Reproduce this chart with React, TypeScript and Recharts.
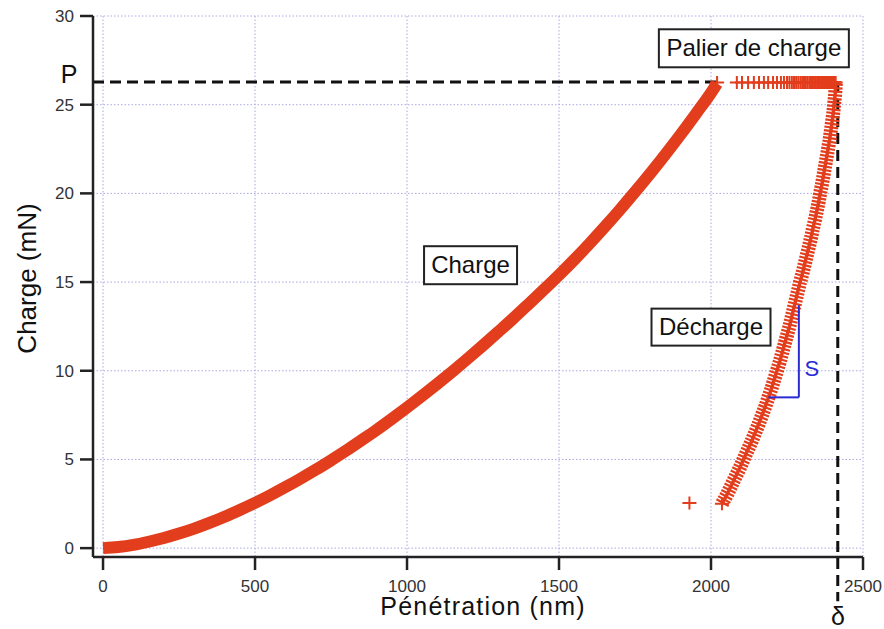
import React from "react";
import { ComposedChart, Line, Scatter, XAxis, YAxis, CartesianGrid, ReferenceLine, ReferenceDot, Label } from "recharts";

const RED = "#e23d1c";
const BLUE = "#2b2bd6";

// charge : [pénétration nm, charge mN]
const loading = [
  [0, 0], [50, 0.06], [100, 0.18], [150, 0.36], [200, 0.57], [250, 0.82], [300, 1.1], [350, 1.42],
  [400, 1.77], [450, 2.15], [500, 2.55], [550, 2.98], [600, 3.44], [650, 3.92], [700, 4.42], [750, 4.95],
  [800, 5.5], [850, 6.08], [900, 6.67], [950, 7.29], [1000, 7.93], [1050, 8.59], [1100, 9.27], [1150, 9.97],
  [1200, 10.69], [1250, 11.43], [1300, 12.19], [1350, 12.96], [1400, 13.76], [1450, 14.57], [1500, 15.4],
  [1550, 16.26], [1600, 17.16], [1650, 18.1], [1700, 19.07], [1750, 20.08], [1800, 21.12], [1850, 22.2],
  [1900, 23.32], [1950, 24.48], [2000, 25.67], [2020, 26.2],
];

// palier de charge (charge maintenue)
const holdDepth = [
  2020, 2085, 2102, 2122, 2141, 2158, 2174, 2188, 2204, 2217, 2230, 2240, 2250, 2258, 2266, 2273,
  2280, 2287, 2294, 2300, 2306, 2312, 2318, 2324, 2329, 2334, 2339, 2344, 2349, 2354, 2358, 2362,
  2366, 2370, 2374, 2378, 2382, 2386, 2390, 2394, 2397, 2400, 2403, 2406, 2408, 2410,
];
const holdLoad = 26.25;

// décharge
const unloading = [
  [2411, 26.2], [2408, 25.5], [2405, 25], [2402, 24.5], [2398, 24], [2394, 23.5], [2390, 23],
  [2385, 22.5], [2380, 22], [2375, 21.5], [2370, 21], [2365, 20.5], [2359, 20], [2354, 19.5],
  [2348, 19], [2342, 18.5], [2335, 18], [2329, 17.5], [2322, 17], [2315, 16.5], [2308, 16],
  [2301, 15.5], [2293, 15], [2286, 14.5], [2279, 14], [2272, 13.5], [2265, 13], [2258, 12.5],
  [2250, 12], [2242, 11.5], [2234, 11], [2226, 10.5], [2217, 10], [2208, 9.5], [2199, 9],
  [2189, 8.5], [2179, 8], [2168, 7.5], [2157, 7], [2145, 6.5], [2133, 6], [2120, 5.5], [2107, 5],
  [2094, 4.5], [2080, 4], [2066, 3.5], [2052, 3], [2036, 2.5],
];

const stray = [[1929, 2.55]];

const xTicks = [0, 500, 1000, 1500, 2000, 2500];
const yTicks = [0, 5, 10, 15, 20, 25, 30];

const pMax = 26.28;
const deltaDepth = 2417;
// triangle de raideur S
const sLow = [2189, 8.5];
const sHigh = [2289, 13.7];

const toPts = (arr: number[][]) => arr.map(([h, p]) => ({ h, p }));

const loadingData = toPts(loading);
const unloadingData = toPts(unloading);
const crossData = [
  ...holdDepth.map((h) => ({ h, p: holdLoad })),
  ...toPts(stray),
  ...toPts(unloading.slice(-1)),
];

const Cross = (props: any) => {
  const { cx, cy } = props;
  if (cx == null || cy == null) return null;
  return (
    <path
      d={`M${cx - 7},${cy}H${cx + 7}M${cx},${cy - 6.5}V${cy + 6.5}`}
      stroke={RED}
      strokeWidth={2}
      fill="none"
    />
  );
};

const boxText = (text: string, w: number, h: number) => (props: any) => {
  const vb = props.viewBox;
  const cx = vb.x + (vb.width || 0) / 2;
  const cy = vb.y + (vb.height || 0) / 2;
  return (
    <g>
      <rect x={cx - w / 2} y={cy - h / 2} width={w} height={h} fill="#fff" stroke="#222" strokeWidth={2} />
      <text x={cx} y={cy + 8} textAnchor="middle" fontSize={24} fill="#111">
        {text}
      </text>
    </g>
  );
};

const plainText = (text: string, size: number, color: string) => (props: any) => {
  const vb = props.viewBox;
  const cx = vb.x + (vb.width || 0) / 2;
  const cy = vb.y + (vb.height || 0) / 2;
  return (
    <text x={cx} y={cy + size * 0.36} textAnchor="middle" fontSize={size} fill={color}>
      {text}
    </text>
  );
};

const xAxisTitle = (props: any) => {
  const vb = props.viewBox;
  return (
    <text x={vb.x + vb.width / 2 + 5} y={vb.y + 58} textAnchor="middle" fontSize={25} letterSpacing={1.2} fill="#111">
      Pénétration (nm)
    </text>
  );
};

const yAxisTitle = (props: any) => {
  const vb = props.viewBox;
  const x = vb.x + 14;
  const y = vb.y + vb.height / 2 - 8;
  return (
    <text x={x} y={y} transform={`rotate(-90, ${x}, ${y})`} textAnchor="middle" dominantBaseline="central" fontSize={26} fill="#111">
      Charge (mN)
    </text>
  );
};

const App = () => {
  return (
    <div style={{ position: "absolute", left: 0, top: 0, fontFamily: "'Liberation Sans', Arial, Helvetica, sans-serif", background: "#fff" }}>
      <ComposedChart width={884} height={629} margin={{ top: 16, right: 21, bottom: 10, left: 13 }}>
        <CartesianGrid stroke="#a9a9e2" strokeDasharray="1.5 2" />
        <XAxis
          type="number"
          dataKey="h"
          domain={[-33, 2500]}
          ticks={xTicks}
          allowDataOverflow
          height={62}
          tickSize={13}
          tickMargin={10}
          axisLine={{ stroke: "#222", strokeWidth: 2.5 }}
          tickLine={{ stroke: "#222", strokeWidth: 2.5 }}
          tick={{ fill: "#333", fontSize: 17 }}
        >
          <Label content={xAxisTitle} />
        </XAxis>
        <YAxis
          type="number"
          domain={[-0.5, 30]}
          ticks={yTicks}
          allowDataOverflow
          width={80}
          tickSize={13}
          tickMargin={6}
          axisLine={{ stroke: "#222", strokeWidth: 2.5 }}
          tickLine={{ stroke: "#222", strokeWidth: 2.5 }}
          tick={{ fill: "#333", fontSize: 17 }}
        >
          <Label content={yAxisTitle} />
        </YAxis>

        <ReferenceLine
          segment={[{ x: -33, y: pMax }, { x: 2020, y: pMax }]}
          stroke="#111"
          strokeWidth={3}
          strokeDasharray="11 6"
          ifOverflow="visible"
        />
        <ReferenceLine
          segment={[{ x: deltaDepth, y: pMax }, { x: deltaDepth, y: -3 }]}
          stroke="#111"
          strokeWidth={3}
          strokeDasharray="11 6"
          ifOverflow="visible"
        />

        <Line data={loadingData} dataKey="p" type="monotone" stroke={RED} strokeWidth={12} dot={false} isAnimationActive={false} />
        <Line
          data={unloadingData}
          dataKey="p"
          type="linear"
          stroke={RED}
          strokeWidth={14}
          strokeDasharray="2.2 1.4"
          dot={false}
          isAnimationActive={false}
        />
        <Line data={unloadingData} dataKey="p" type="linear" stroke={RED} strokeWidth={3.5} dot={false} isAnimationActive={false} />
        <Scatter data={crossData} dataKey="p" shape={<Cross />} isAnimationActive={false} />

        <ReferenceLine segment={[{ x: sHigh[0], y: sHigh[1] }, { x: sHigh[0], y: sLow[1] }]} stroke={BLUE} strokeWidth={2} />
        <ReferenceLine segment={[{ x: sLow[0], y: sLow[1] }, { x: sHigh[0], y: sLow[1] }]} stroke={BLUE} strokeWidth={2} />

        <ReferenceDot x={2141} y={28.18} r={1} fill="none" stroke="none" ifOverflow="visible" label={boxText("Palier de charge", 190, 38)} />
        <ReferenceDot x={1209} y={15.95} r={1} fill="none" stroke="none" ifOverflow="visible" label={boxText("Charge", 93, 38)} />
        <ReferenceDot x={2000} y={12.46} r={1} fill="none" stroke="none" ifOverflow="visible" label={boxText("Décharge", 119, 37)} />
        <ReferenceDot x={2332} y={10.15} r={1} fill="none" stroke="none" ifOverflow="visible" label={plainText("S", 22, BLUE)} />
        <ReferenceDot x={-112} y={26.71} r={1} fill="none" stroke="none" ifOverflow="visible" label={plainText("P", 25, "#111")} />
        <ReferenceDot x={2418} y={-3.85} r={1} fill="none" stroke="none" ifOverflow="visible" label={plainText("δ", 25, "#111")} />
      </ComposedChart>
    </div>
  );
};

export default App;
